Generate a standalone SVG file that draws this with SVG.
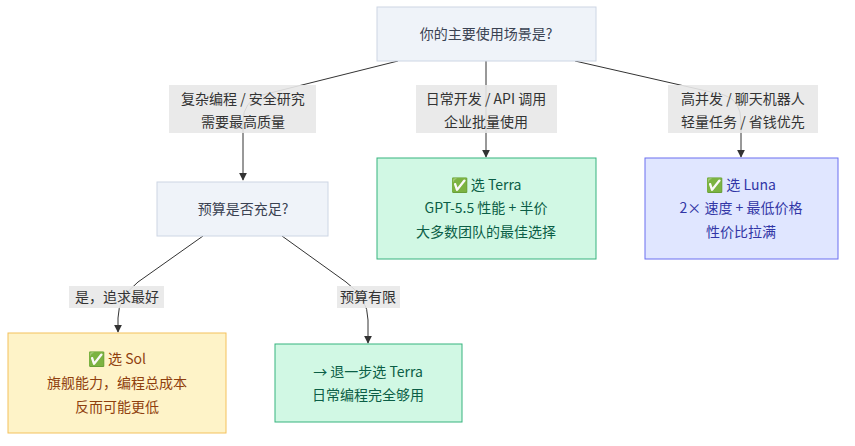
<svg xmlns="http://www.w3.org/2000/svg" width="855" height="446" viewBox="0 0 855 446">
<style>
text{font-family:"Noto Sans CJK SC","Noto Sans",sans-serif;font-size:14px;text-anchor:middle}
.q rect{fill:#eff3f9;stroke:#cdd6e4}
.q text{fill:#3a4252}
.g rect{fill:#d1f8e4;stroke:#36b37e}
.g text{fill:#0b5e46}
.b rect{fill:#e0e6ff;stroke:#6b6ff0}
.b text{fill:#3236a6}
.y rect{fill:#fef3c8;stroke:#f4c15c}
.y text{fill:#8f3f0e}
.e path{fill:none;stroke:#333;stroke-width:1}
.lb rect{fill:#e8e8e8;opacity:.9}
.lb text{fill:#333}
</style>
<defs><marker id="a" viewBox="0 0 10 10" refX="9" refY="5" markerWidth="8" markerHeight="8" orient="auto"><path d="M0,0L10,5L0,10z" fill="#333"/></marker></defs>
<g class="e">
<path d="M398,61 L262,95 Q243,101 243,122 L243,180" marker-end="url(#a)"/>
<path d="M486,61 L486,157" marker-end="url(#a)"/>
<path d="M575,61 L724,95 Q741,100 741,122 L741,157" marker-end="url(#a)"/>
<path d="M203,236 L138,282 Q118,298 118,318 L118,332" marker-end="url(#a)"/>
<path d="M282,236 L346,282 Q368,298 368,320 L368,343" marker-end="url(#a)"/>
</g>
<g class="lb">
<rect x="169" y="85" width="147" height="48"/><text x="243" y="104">复杂编程 / 安全研究</text><text x="243" y="127">需要最高质量</text>
<rect x="416" y="85" width="141" height="48"/><text x="486" y="104">日常开发 / API 调用</text><text x="486" y="127">企业批量使用</text>
<rect x="668" y="85" width="150" height="48"/><text x="743" y="104">高并发 / 聊天机器人</text><text x="743" y="127">轻量任务 / 省钱优先</text>
<rect x="69" y="286" width="95" height="22"/><text x="117" y="302">是，追求最好</text>
<rect x="337" y="286" width="63" height="22"/><text x="368" y="302">预算有限</text>
</g>
<g id="n1" class="q"><rect x="377" y="7" width="219" height="54"/><text x="486" y="39">你的主要使用场景是?</text></g>
<g id="n2" class="q"><rect x="157" y="182" width="171" height="54"/><text x="243" y="214">预算是否充足?</text></g>
<g id="n3" class="g"><rect x="377" y="158" width="219" height="101"/><text x="486" y="190">✅ 选 Terra</text><text x="486" y="213">GPT-5.5 性能 + 半价</text><text x="486" y="237">大多数团队的最佳选择</text></g>
<g id="n4" class="b"><rect x="645" y="158" width="193" height="101"/><text x="741" y="190">✅ 选 Luna</text><text x="741" y="213">2× 速度 + 最低价格</text><text x="741" y="237">性价比拉满</text></g>
<g id="n5" class="y"><rect x="8" y="333" width="218" height="100"/><text x="117" y="364">✅ 选 Sol</text><text x="117" y="388">旗舰能力，编程总成本</text><text x="117" y="412">反而可能更低</text></g>
<g id="n6" class="g"><rect x="275" y="344" width="187" height="78"/><text x="368" y="377">→ 退一步选 Terra</text><text x="368" y="400">日常编程完全够用</text></g>
</svg>
